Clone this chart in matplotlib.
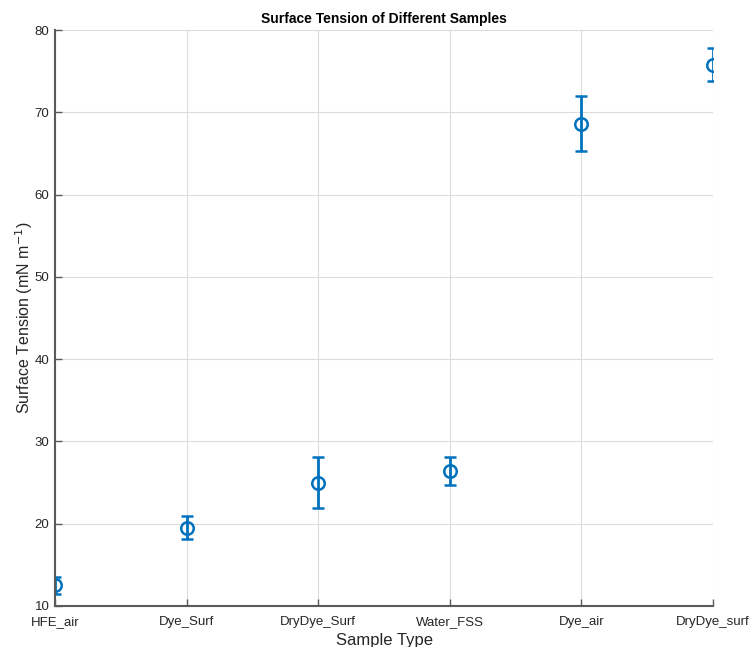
import matplotlib.pyplot as plt
import numpy as np

plt.rcParams['font.family'] = ['Liberation Sans', 'DejaVu Sans']

# Mean surface tension and spread for each sample
samples = ['HFE_air', 'Dye_Surf', 'DryDye_Surf', 'Water_FSS', 'Dye_air', 'DryDye_surf']
tension = [12.5, 19.5, 25.0, 26.4, 68.6, 75.8]
tension_err = [1.0, 1.4, 3.1, 1.7, 3.35, 2.0]

x = np.arange(1, len(samples) + 1)
blue = '#0072BD'
axis_col = '#262626'

fig = plt.figure(figsize=(7.53, 6.47), dpi=100)
ax = fig.add_axes([0.073, 0.0634, 0.874, 0.8902])

ax.errorbar(x, tension, yerr=tension_err, fmt='o', color=blue, mfc='none',
            mec=blue, ms=9, mew=1.8, elinewidth=2, capsize=4, capthick=2)

ax.set_xlim(1, 6)
ax.set_ylim(10, 80)
ax.set_xticks(x)
ax.set_xticklabels(samples)
ax.set_yticks(np.arange(10, 81, 10))

ax.grid(True, color='#dcdcdc', linewidth=0.8)
ax.set_axisbelow(True)

for side in ['top', 'right']:
    ax.spines[side].set_visible(False)
for side in ['left', 'bottom']:
    ax.spines[side].set_color('#5a5a5a')
    ax.spines[side].set_linewidth(1.5)

ax.tick_params(direction='in', length=5, width=1, colors='#5a5a5a',
               labelcolor=axis_col, labelsize=9.5)
ax.tick_params(axis='y', pad=4)
ax.tick_params(axis='x', pad=7)

ax.set_title('Surface Tension of Different Samples', fontsize=10,
             fontweight='bold', color='black', pad=5)
ax.set_xlabel('Sample Type', fontsize=12, color=axis_col, labelpad=3.5)
ax.set_ylabel('Surface Tension (mN m$^{-1}$)', fontsize=11.5, color=axis_col,
              labelpad=0)

fig.savefig('out.png', dpi=100)
